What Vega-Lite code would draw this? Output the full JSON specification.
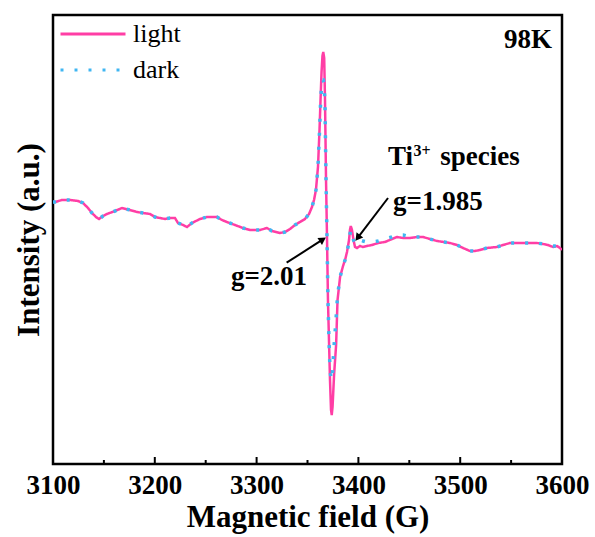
{
  "$schema": "https://vega.github.io/schema/vega-lite/v6.json",
  "width": 509,
  "height": 449,
  "autosize": {"type": "none"},
  "padding": {"left": 53, "top": 15, "right": 33, "bottom": 73},
  "background": "white",
  "config": {
    "view": {"stroke": null},
    "font": "Liberation Serif, Times New Roman, serif"
  },
  "datasets": {
    "epr": [
      {"B": 3100.0, "light": 262, "dark": 262},
      {"B": 3102.0, "light": 262, "dark": 262},
      {"B": 3108.8, "light": 264, "dark": 264},
      {"B": 3116.7, "light": 264, "dark": 264},
      {"B": 3124.6, "light": 263, "dark": 263},
      {"B": 3129.5, "light": 261, "dark": 261},
      {"B": 3134.4, "light": 256, "dark": 256},
      {"B": 3138.3, "light": 251, "dark": 251},
      {"B": 3142.2, "light": 247, "dark": 247},
      {"B": 3145.2, "light": 245, "dark": 245},
      {"B": 3149.1, "light": 248, "dark": 248},
      {"B": 3153.0, "light": 250, "dark": 250},
      {"B": 3160.9, "light": 253, "dark": 253},
      {"B": 3167.8, "light": 256, "dark": 256},
      {"B": 3175.6, "light": 254, "dark": 254},
      {"B": 3182.5, "light": 252, "dark": 252},
      {"B": 3188.4, "light": 251, "dark": 251},
      {"B": 3195.3, "light": 250, "dark": 250},
      {"B": 3200.2, "light": 247, "dark": 247},
      {"B": 3205.1, "light": 246, "dark": 246},
      {"B": 3210.0, "light": 245, "dark": 245},
      {"B": 3214.9, "light": 246, "dark": 246},
      {"B": 3219.8, "light": 246, "dark": 246},
      {"B": 3222.8, "light": 241, "dark": 241},
      {"B": 3227.7, "light": 239, "dark": 239},
      {"B": 3231.6, "light": 237, "dark": 237},
      {"B": 3236.5, "light": 241, "dark": 241},
      {"B": 3244.4, "light": 245, "dark": 245},
      {"B": 3251.3, "light": 247, "dark": 247},
      {"B": 3256.2, "light": 247, "dark": 247},
      {"B": 3261.1, "light": 247, "dark": 247},
      {"B": 3266.0, "light": 244, "dark": 244},
      {"B": 3270.9, "light": 242, "dark": 242},
      {"B": 3278.8, "light": 239, "dark": 239},
      {"B": 3286.6, "light": 236, "dark": 236},
      {"B": 3293.5, "light": 234, "dark": 234},
      {"B": 3303.3, "light": 234, "dark": 234},
      {"B": 3310.2, "light": 236, "dark": 236},
      {"B": 3315.1, "light": 233, "dark": 233},
      {"B": 3323.0, "light": 231, "dark": 231},
      {"B": 3327.9, "light": 232, "dark": 232},
      {"B": 3332.8, "light": 235, "dark": 235},
      {"B": 3337.7, "light": 239, "dark": 239},
      {"B": 3342.6, "light": 242, "dark": 242},
      {"B": 3347.5, "light": 245, "dark": 245},
      {"B": 3351.5, "light": 250, "dark": 250},
      {"B": 3354.4, "light": 257, "dark": 257},
      {"B": 3356.4, "light": 264, "dark": 264},
      {"B": 3358.3, "light": 274, "dark": 274},
      {"B": 3360.3, "light": 297, "dark": 297},
      {"B": 3361.8, "light": 334, "dark": 332},
      {"B": 3362.8, "light": 364, "dark": 360},
      {"B": 3363.8, "light": 392, "dark": 378},
      {"B": 3364.7, "light": 408, "dark": 384},
      {"B": 3365.5, "light": 412, "dark": 384},
      {"B": 3366.4, "light": 406, "dark": 380},
      {"B": 3367.2, "light": 364, "dark": 358},
      {"B": 3368.2, "light": 284, "dark": 284},
      {"B": 3369.2, "light": 224, "dark": 224},
      {"B": 3370.1, "light": 164, "dark": 164},
      {"B": 3371.1, "light": 124, "dark": 124},
      {"B": 3372.1, "light": 84, "dark": 95},
      {"B": 3373.1, "light": 54, "dark": 85},
      {"B": 3373.8, "light": 49, "dark": 84},
      {"B": 3374.6, "light": 57, "dark": 92},
      {"B": 3376.1, "light": 89, "dark": 118},
      {"B": 3378.1, "light": 119, "dark": 146},
      {"B": 3379.5, "light": 164, "dark": 168},
      {"B": 3382.0, "light": 187, "dark": 187},
      {"B": 3384.9, "light": 198, "dark": 198},
      {"B": 3386.9, "light": 204, "dark": 204},
      {"B": 3388.8, "light": 212, "dark": 212},
      {"B": 3390.8, "light": 224, "dark": 222},
      {"B": 3391.7, "light": 234, "dark": 230},
      {"B": 3392.5, "light": 238, "dark": 234},
      {"B": 3393.7, "light": 234, "dark": 231},
      {"B": 3395.2, "light": 224, "dark": 224},
      {"B": 3396.7, "light": 217, "dark": 220},
      {"B": 3398.6, "light": 216, "dark": 222},
      {"B": 3401.6, "light": 218, "dark": 224},
      {"B": 3404.5, "light": 217, "dark": 223},
      {"B": 3408.4, "light": 218, "dark": 222},
      {"B": 3413.4, "light": 219, "dark": 222},
      {"B": 3419.3, "light": 221, "dark": 223},
      {"B": 3426.1, "light": 222, "dark": 225},
      {"B": 3433.0, "light": 225, "dark": 227},
      {"B": 3437.9, "light": 227, "dark": 229},
      {"B": 3443.8, "light": 226, "dark": 229},
      {"B": 3450.7, "light": 226, "dark": 227},
      {"B": 3457.6, "light": 227, "dark": 227},
      {"B": 3463.5, "light": 227, "dark": 227},
      {"B": 3470.3, "light": 225, "dark": 225},
      {"B": 3477.2, "light": 223, "dark": 223},
      {"B": 3484.1, "light": 222, "dark": 222},
      {"B": 3490.0, "light": 221, "dark": 221},
      {"B": 3496.9, "light": 219, "dark": 219},
      {"B": 3502.8, "light": 216, "dark": 216},
      {"B": 3509.6, "light": 213, "dark": 213},
      {"B": 3514.5, "light": 213, "dark": 213},
      {"B": 3519.4, "light": 214, "dark": 214},
      {"B": 3526.3, "light": 216, "dark": 216},
      {"B": 3536.1, "light": 217, "dark": 217},
      {"B": 3542.0, "light": 219, "dark": 219},
      {"B": 3548.9, "light": 221, "dark": 221},
      {"B": 3558.7, "light": 221, "dark": 221},
      {"B": 3568.6, "light": 221, "dark": 221},
      {"B": 3575.4, "light": 221, "dark": 221},
      {"B": 3581.3, "light": 220, "dark": 220},
      {"B": 3586.2, "light": 219, "dark": 219},
      {"B": 3591.2, "light": 217, "dark": 218},
      {"B": 3595.1, "light": 218, "dark": 218},
      {"B": 3598.1, "light": 216, "dark": 216},
      {"B": 3600.0, "light": 214, "dark": 214}
    ],
    "labels27": [
      {"B": 3429.1, "v": 299, "t": "Ti"},
      {"B": 3480.5, "v": 299, "t": "species"},
      {"B": 3434.0, "v": 254, "t": "g=1.985"}
    ],
    "arrows": [
      {"B": 3329.5, "v": 201.3, "B2": 3364.0, "v2": 223.8},
      {"B": 3429.1, "v": 266.0, "B2": 3400.0, "v2": 227.2}
    ],
    "majorTicks": [{"B": 3200}, {"B": 3300}, {"B": 3400}, {"B": 3500}],
    "minorTicks": [{"B": 3150}, {"B": 3250}, {"B": 3350}, {"B": 3450}, {"B": 3550}]
  },
  "data": {"name": "epr"},
  "layer": [
    {
      "data": {"values": [{"x0": 3100, "x1": 3600, "y0": 0, "y1": 449}]},
      "mark": {"type": "rect", "filled": false, "stroke": "black", "strokeWidth": 2.5},
      "encoding": {
        "x": {
          "field": "x0", "type": "quantitative",
          "scale": {"domain": [3100, 3600], "nice": false},
          "axis": {
            "values": [3100, 3200, 3300, 3400, 3500, 3600],
            "format": "d",
            "grid": false, "domain": false, "ticks": false,
            "labelFont": "Liberation Serif, Times New Roman, serif", "labelFontWeight": "bold",
            "labelFontSize": 27, "labelColor": "black", "labelPadding": 8,
            "labelFlush": false, "labelOverlap": false,
            "title": "Magnetic field (G)",
            "titleFont": "Liberation Serif, Times New Roman, serif", "titleFontWeight": "bold",
            "titleFontSize": 31, "titleColor": "black", "titlePadding": 4
          }
        },
        "x2": {"field": "x1"},
        "y": {
          "field": "y0", "type": "quantitative",
          "scale": {"domain": [0, 449], "nice": false, "zero": false},
          "axis": {
            "labels": false, "ticks": false, "domain": false, "grid": false,
            "title": "Intensity (a.u.)",
            "titleFont": "Liberation Serif, Times New Roman, serif", "titleFontWeight": "bold",
            "titleFontSize": 31, "titleColor": "black", "titlePadding": 8
          }
        },
        "y2": {"field": "y1"}
      }
    },
    {
      "data": {"name": "majorTicks"},
      "mark": {"type": "rule", "color": "black", "strokeWidth": 2},
      "encoding": {
        "x": {"field": "B", "type": "quantitative"},
        "y": {"datum": 0, "type": "quantitative"},
        "y2": {"datum": 7}
      }
    },
    {
      "data": {"name": "minorTicks"},
      "mark": {"type": "rule", "color": "black", "strokeWidth": 2},
      "encoding": {
        "x": {"field": "B", "type": "quantitative"},
        "y": {"datum": 0, "type": "quantitative"},
        "y2": {"datum": 4}
      }
    },
    {
      "transform": [
        {"fold": ["light", "dark"], "as": ["series", "I"]},
        {"filter": "datum.series === 'light'"}
      ],
      "mark": {"type": "line", "strokeWidth": 2.5, "clip": true},
      "encoding": {
        "x": {"field": "B", "type": "quantitative"},
        "y": {"field": "I", "type": "quantitative"},
        "color": {
          "field": "series", "type": "nominal",
          "scale": {"domain": ["light", "dark"], "range": ["#ff3ea5", "#40b6f2"]},
          "legend": {
            "orient": "none", "legendX": 6, "legendY": 3,
            "title": null,
            "symbolType": "stroke", "symbolSize": 4225, "symbolStrokeWidth": 3,
            "labelFont": "Liberation Serif, Times New Roman, serif", "labelFontSize": 26, "labelColor": "black",
            "labelOffset": 6, "clipHeight": 32, "rowPadding": 4
          }
        },
        "strokeDash": {
          "field": "series", "type": "nominal",
          "scale": {"domain": ["light", "dark"], "range": [[1, 0], [3, 11]]},
          "legend": {
            "orient": "none", "legendX": 6, "legendY": 3,
            "title": null,
            "symbolType": "stroke", "symbolSize": 4225, "symbolStrokeWidth": 3,
            "labelFont": "Liberation Serif, Times New Roman, serif", "labelFontSize": 26, "labelColor": "black",
            "labelOffset": 6, "clipHeight": 32, "rowPadding": 4
          }
        }
      }
    },
    {
      "transform": [
        {"fold": ["light", "dark"], "as": ["series", "I"]},
        {"filter": "datum.series === 'dark'"}
      ],
      "mark": {"type": "line", "strokeWidth": 3.5, "clip": true},
      "encoding": {
        "x": {"field": "B", "type": "quantitative"},
        "y": {"field": "I", "type": "quantitative"},
        "color": {"field": "series", "type": "nominal"},
        "strokeDash": {"field": "series", "type": "nominal"}
      }
    },
    {
      "data": {"name": "arrows"},
      "mark": {"type": "rule", "color": "black", "strokeWidth": 2},
      "encoding": {
        "x": {"field": "B", "type": "quantitative"},
        "y": {"field": "v", "type": "quantitative"},
        "x2": {"field": "B2"},
        "y2": {"field": "v2"}
      }
    },
    {
      "data": {"values": [{"B": 3364.0, "v": 223.8}]},
      "mark": {"type": "point", "shape": "triangle", "filled": true, "color": "black", "opacity": 1, "size": 70, "angle": 57},
      "encoding": {
        "x": {"field": "B", "type": "quantitative"},
        "y": {"field": "v", "type": "quantitative"}
      }
    },
    {
      "data": {"values": [{"B": 3400.0, "v": 227.2}]},
      "mark": {"type": "point", "shape": "triangle", "filled": true, "color": "black", "opacity": 1, "size": 70, "angle": 217},
      "encoding": {
        "x": {"field": "B", "type": "quantitative"},
        "y": {"field": "v", "type": "quantitative"}
      }
    },
    {
      "data": {"name": "labels27"},
      "mark": {"type": "text", "font": "Liberation Serif, Times New Roman, serif", "fontWeight": "bold", "fontSize": 27, "align": "left", "baseline": "alphabetic", "color": "black"},
      "encoding": {
        "x": {"field": "B", "type": "quantitative"},
        "y": {"field": "v", "type": "quantitative"},
        "text": {"field": "t"}
      }
    },
    {
      "data": {"values": [{"B": 3454.2, "v": 308, "t": "3+"}]},
      "mark": {"type": "text", "font": "Liberation Serif, Times New Roman, serif", "fontWeight": "bold", "fontSize": 16, "align": "left", "baseline": "alphabetic", "color": "black"},
      "encoding": {
        "x": {"field": "B", "type": "quantitative"},
        "y": {"field": "v", "type": "quantitative"},
        "text": {"field": "t"}
      }
    },
    {
      "data": {"values": [{"B": 3312.2, "v": 179, "t": "g=2.01"}]},
      "mark": {"type": "text", "font": "Liberation Serif, Times New Roman, serif", "fontWeight": "bold", "fontSize": 27, "align": "center", "baseline": "alphabetic", "color": "black"},
      "encoding": {
        "x": {"field": "B", "type": "quantitative"},
        "y": {"field": "v", "type": "quantitative"},
        "text": {"field": "t"}
      }
    },
    {
      "data": {"values": [{"B": 3590.2, "v": 416, "t": "98K"}]},
      "mark": {"type": "text", "font": "Liberation Serif, Times New Roman, serif", "fontWeight": "bold", "fontSize": 27, "align": "right", "baseline": "alphabetic", "color": "black"},
      "encoding": {
        "x": {"field": "B", "type": "quantitative"},
        "y": {"field": "v", "type": "quantitative"},
        "text": {"field": "t"}
      }
    }
  ]
}
